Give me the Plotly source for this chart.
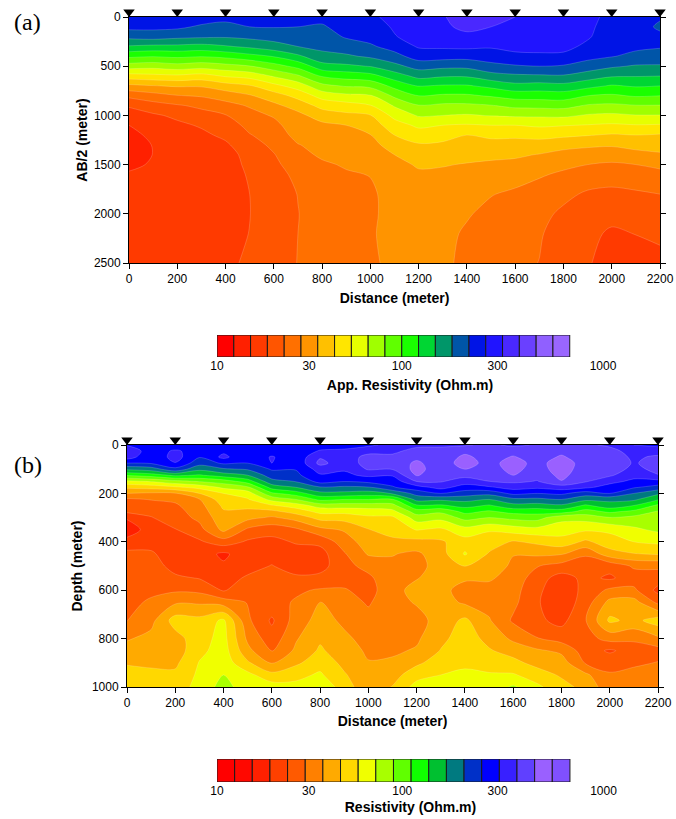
import numpy as np
import plotly.graph_objects as go

# --- shared
distance = [0, 100, 200, 300, 400, 500, 600, 700, 800, 900, 1000, 1100, 1200, 1300, 1400, 1500, 1600, 1700, 1800, 1900, 2000, 2100, 2200]
distance_ticks = [0, 200, 400, 600, 800, 1000, 1200, 1400, 1600, 1800, 2000, 2200]
electrodes = [0, 200, 400, 600, 800, 1000, 1200, 1400, 1600, 1800, 2000, 2200]

# --- panel (a): colour-scale position of apparent resistivity, one list per station
ab2 = [0, 100, 200, 300, 400, 500, 600, 700, 800, 900, 1000, 1100, 1200, 1300, 1400, 1500, 1600, 1800, 2000, 2200, 2500]
a_0 = [15.8, 15.3, 14.3, 12.9, 11.2, 9.5, 7.55, 5.75, 4.25, 3.1, 2.55, 2.0, 1.6, 1.4, 1.5, 1.8, 2.1, 2.35, 2.4, 2.45, 2.5]
a_100 = [15.7, 15.25, 14.45, 12.75, 11.05, 9.35, 7.7, 5.95, 4.6, 3.6, 2.85, 2.5, 2.3, 2.05, 2.02, 2.1, 2.25, 2.4, 2.4, 2.45, 2.5]
a_200 = [15.7, 15.2, 14.25, 12.75, 11.2, 9.6, 7.8, 6.1, 4.95, 3.9, 3.2, 2.8, 2.65, 2.5, 2.45, 2.45, 2.45, 2.45, 2.45, 2.45, 2.5]
a_300 = [15.5, 14.85, 14.15, 12.65, 11.05, 9.4, 7.6, 6.1, 5.1, 4.2, 3.65, 3.1, 2.8, 2.75, 2.6, 2.55, 2.5, 2.45, 2.45, 2.5, 2.6]
a_400 = [15.3, 14.7, 14.1, 12.9, 11.25, 9.65, 8.1, 6.55, 5.45, 4.65, 3.95, 3.55, 3.2, 2.85, 2.65, 2.6, 2.55, 2.5, 2.55, 2.65, 2.75]
a_500 = [15.25, 15, 14.25, 13.2, 11.65, 9.95, 8.35, 6.9, 5.9, 5.1, 4.65, 4.25, 3.95, 3.6, 3.3, 3.2, 3.1, 3.0, 2.98, 3.02, 3.2]
a_600 = [15.2, 15.05, 14.4, 13.6, 12.05, 10.6, 9.1, 7.7, 6.55, 5.75, 5.1, 4.7, 4.4, 4.2, 3.95, 3.8, 3.7, 3.6, 3.6, 3.6, 3.65]
a_700 = [15.1, 15, 14.5, 14, 12.8, 11.3, 9.85, 8.45, 7.3, 6.45, 5.7, 5.6, 5.35, 4.95, 4.7, 4.45, 4.2, 4.02, 3.98, 4.0, 4.02]
a_800 = [15.25, 14.9, 14.55, 14.25, 13.7, 12.6, 11.1, 9.7, 8.4, 7.3, 6.5, 5.75, 5.65, 5.35, 5.15, 4.85, 4.6, 4.4, 4.35, 4.35, 4.4]
a_900 = [15.6, 15.35, 15.1, 14.5, 13.85, 12.8, 11.4, 10.1, 8.75, 7.6, 6.75, 6, 5.8, 5.6, 5.35, 5.1, 4.9, 4.7, 4.65, 4.65, 4.7]
a_1000 = [15.85, 15.6, 15.35, 14.85, 14.15, 13.05, 11.65, 10.25, 8.9, 7.95, 6.95, 6.45, 5.97, 5.7, 5.45, 5.2, 5.03, 4.85, 4.85, 4.9, 4.8]
a_1100 = [16.25, 16.1, 15.95, 15.4, 14.65, 13.7, 12.5, 11.3, 10.2, 9.1, 8.3, 7.55, 7, 6.4, 6, 5.6, 5.45, 5.35, 5.3, 5.3, 5.3]
a_1200 = [16.7, 16.55, 16.35, 16.1, 15.45, 14.4, 13.3, 12.05, 11, 9.95, 9.1, 8.2, 7.5, 6.9, 6.5, 6.15, 5.8, 5.5, 5.4, 5.35, 5.3]
a_1300 = [16.95, 16.85, 16.5, 16.15, 15.4, 14.25, 13.1, 11.9, 10.85, 9.8, 9.0, 8, 7.3, 6.85, 6.45, 6.05, 5.85, 5.55, 5.4, 5.3, 5.25]
a_1400 = [17.3, 17.2, 16.8, 16.2, 15.35, 14.25, 13.1, 11.9, 10.85, 9.8, 8.9, 7.9, 7, 6.7, 6.25, 5.95, 5.75, 5.35, 5.1, 4.85, 4.7]
a_1500 = [17.3, 17, 16.6, 16.1, 15.5, 14.7, 13.6, 12.25, 11.1, 9.95, 9.05, 8, 7.15, 6.75, 6.2, 5.85, 5.6, 5.05, 4.7, 4.55, 4.45]
a_1600 = [17, 16.75, 16.5, 16.3, 15.75, 14.9, 13.8, 12.7, 11.4, 10.25, 9.15, 8, 7.15, 6.7, 6.15, 5.75, 5.45, 4.8, 4.5, 4.35, 4.25]
a_1700 = [16.8, 16.65, 16.45, 16.25, 15.85, 15, 13.85, 12.6, 11.45, 10.3, 9.15, 8.15, 7.3, 6.6, 5.95, 5.5, 5.1, 4.6, 4.3, 4.1, 3.98]
a_1800 = [16.6, 16.55, 16.4, 16.2, 15.85, 14.9, 13.9, 12.7, 11.5, 10.35, 9.2, 8.05, 7.2, 6.3, 5.7, 5.2, 4.85, 4.25, 3.8, 3.55, 3.35]
a_1900 = [16.15, 16.12, 16.08, 15.85, 15.3, 14.55, 13.5, 12.3, 11, 9.9, 8.9, 7.95, 7.05, 6.15, 5.6, 5, 4.6, 3.85, 3.45, 3.25, 3.1]
a_2000 = [15.85, 15.75, 15.6, 15.4, 15.05, 14.15, 13.1, 11.9, 10.85, 9.8, 8.8, 7.85, 6.9, 6.1, 5.5, 4.85, 4.45, 3.75, 3.3, 2.85, 2.55]
a_2100 = [15.5, 15.4, 15.3, 15.2, 14.75, 13.9, 13.05, 12.1, 11.1, 9.95, 8.95, 7.95, 7, 6.35, 5.65, 5, 4.6, 3.85, 3.45, 3.02, 2.7]
a_2200 = [15.1, 14.85, 15.2, 15.1, 14.55, 13.9, 13, 12, 11, 9.95, 8.95, 7.9, 6.9, 6.45, 5.85, 5.2, 4.75, 4, 3.6, 3.2, 2.7]

# --- panel (b): colour-scale position of resistivity, one list per station
depth = [0, 25, 50, 75, 100, 125, 150, 175, 200, 225, 250, 275, 300, 350, 400, 450, 500, 550, 600, 650, 725, 800, 850, 900, 950, 1000]
b_0 = [15.9, 17.0, 16.5, 15, 13.2, 11.1, 8.8, 7.2, 6, 4.8, 4.5, 4.2, 3.1, 2.5, 3.3, 4.3, 4.5, 4.6, 4.7, 4.8, 4.95, 5.9, 6.4, 6.9, 7.4, 7.6]
b_100 = [15.2, 15.3, 15.2, 15.1, 13.5, 11.5, 9.1, 7.4, 5.85, 5.05, 4.6, 4.25, 3.95, 3.4, 3.6, 4.15, 4.5, 4.6, 4.85, 5.1, 5.7, 6.3, 6.6, 6.85, 7.2, 7.4]
b_200 = [15.1, 16.2, 16.4, 15.95, 14.7, 12.2, 9.7, 7.8, 5.9, 5.2, 4.85, 4.65, 4.5, 3.95, 3.55, 3.4, 3.6, 4.2, 4.85, 5.85, 7.45, 6.6, 6.45, 6.8, 7.2, 7.4]
b_300 = [15.5, 15.4, 15.05, 14.4, 13.25, 11.9, 10.1, 8.3, 7.0, 5.95, 5.65, 5.45, 5.25, 4.65, 3.85, 3.5, 3.5, 3.95, 4.75, 5.85, 7.3, 7.6, 7.75, 8.05, 8.2, 8.4]
b_400 = [15.3, 15.8, 16.25, 15.15, 13.85, 12.5, 10.5, 9.2, 8.0, 7.6, 7.2, 6.9, 6.65, 6.25, 4.55, 2.8, 3.15, 3.55, 3.9, 5.5, 8.2, 8.35, 8.45, 8.6, 9.0, 9.35]
b_500 = [15.3, 15.3, 15.2, 15, 14.1, 13, 11.5, 9.8, 8.5, 7.9, 7.2, 6.85, 6.3, 4.8, 3.85, 3.6, 3.6, 4.15, 4.65, 4.95, 5.2, 5.8, 6.3, 7.15, 8.3, 8.5]
b_600 = [15.4, 15.5, 16.1, 16.0, 15.1, 14.5, 13.7, 12.4, 10.8, 9.3, 7.9, 6.75, 5.85, 4.4, 3.7, 3.6, 4.05, 4.3, 4.45, 4.65, 3.85, 4.4, 4.9, 5.95, 7.3, 8.5]
b_700 = [15.35, 15.3, 15.3, 15.2, 15.05, 14.75, 14.05, 13, 11.5, 10, 8.5, 7.4, 6.4, 4.8, 4.1, 3.55, 3.5, 4.2, 4.85, 5.1, 5.45, 5.9, 6.2, 6.8, 7.7, 8.3]
b_800 = [15.5, 16.1, 16.9, 17.3, 16.4, 15.9, 15.4, 13.9, 12.7, 11.25, 9.45, 8.3, 7.35, 5.7, 4.25, 3.6, 3.6, 4.3, 5.1, 6.05, 6.4, 6.85, 7.15, 7.6, 8.15, 9.05]
b_900 = [15.7, 16.15, 16.5, 16.4, 16.1, 15.8, 15.05, 13.8, 12.7, 11, 9.5, 8.3, 7.4, 6.1, 5.5, 4.9, 4.7, 4.55, 5.1, 5.4, 5.8, 6.2, 6.45, 6.75, 7.1, 7.35]
b_1000 = [15.8, 16.7, 17.3, 17.4, 17.1, 16.2, 15.3, 13.9, 12.5, 11, 9.5, 8.5, 7.8, 6.95, 6.5, 6.1, 5.3, 4.8, 4.6, 4.9, 5.3, 5.65, 5.85, 6.05, 6.3, 6.5]
b_1100 = [16.3, 16.8, 17.2, 17.35, 17.05, 16.1, 15.4, 14.9, 13.1, 10.9, 9.65, 8.7, 7.8, 7.5, 6.7, 6.05, 5.8, 5.7, 5.7, 5.6, 5.5, 5.6, 5.85, 6.15, 6.6, 7.05]
b_1200 = [16.8, 17.3, 17.75, 18.2, 18.35, 18.1, 17.05, 15.6, 14.35, 13.35, 11.85, 10.5, 9.5, 8.05, 6.7, 5.8, 5.6, 5.95, 6.3, 6.1, 5.6, 5.85, 6.1, 6.8, 7.6, 8.4]
b_1300 = [16.9, 17.2, 17.3, 17.4, 17.4, 17.3, 17.1, 16.35, 15, 13.2, 11.85, 10.2, 9.3, 7.8, 6.85, 6.6, 6.5, 6.4, 6.3, 6.4, 6.45, 6.75, 7.05, 7.5, 8, 8.35]
b_1400 = [16.9, 17.7, 18.25, 18.5, 18, 17.3, 16.5, 15.55, 14.5, 13.35, 12.35, 11.3, 10.35, 8.6, 7.6, 8.1, 7.05, 6.15, 5.6, 5.85, 7.2, 7.5, 7.65, 7.85, 8.15, 8.3]
b_1500 = [17.2, 17.3, 17.5, 17.6, 17.5, 17.3, 17, 15.85, 14.3, 13, 11.9, 10.85, 10, 8.1, 7.5, 6.9, 6.6, 6.1, 5.75, 5.6, 6.1, 6.7, 7.1, 7.6, 8.1, 8.4]
b_1600 = [16.8, 17.6, 18.1, 18.5, 18.35, 18, 17.2, 16.4, 15.25, 13.75, 12.7, 11.35, 10.3, 8.45, 6.9, 6.05, 5.8, 5.7, 5.4, 5.25, 4.85, 5.8, 6.6, 7.3, 8.1, 9.15]
b_1700 = [17.1, 17.25, 17.45, 17.6, 17.5, 17.3, 16.95, 16.2, 15, 13.75, 12.6, 11.4, 10.4, 8.65, 7.2, 6.2, 5.05, 4.4, 4.2, 4.1, 4.2, 5.05, 6.15, 6.65, 7.5, 8.2]
b_1800 = [17.4, 17.7, 18.15, 18.6, 18.55, 18.3, 17.95, 16.5, 15.2, 14, 12.85, 11.5, 9.3, 8.45, 7.6, 6.1, 4.6, 3.6, 3.35, 3.3, 3.7, 4.6, 5.8, 6.45, 6.85, 7.4]
b_1900 = [17.2, 17.3, 17.4, 17.5, 17.4, 17.3, 17.1, 16.2, 14.5, 13.25, 11.85, 10.6, 9.4, 8.15, 6.8, 5.15, 4.4, 4.25, 4.3, 4.5, 4.95, 4.6, 4.5, 4.9, 6.2, 6.65]
b_2000 = [16.8, 17.4, 17.6, 17.75, 17.55, 17.15, 16.3, 15.6, 15.0, 13.25, 12.6, 11.2, 9.95, 8.2, 7.55, 6.6, 4.3, 3.85, 5.2, 6.3, 7.2, 5.35, 3.85, 4.65, 5.1, 5.4]
b_2100 = [16, 16.5, 16.8, 16.9, 16.7, 16.3, 15.8, 15.1, 14, 13.2, 12, 10.75, 9.7, 8.8, 8, 6.95, 5.15, 4.5, 5.2, 6.4, 6.7, 5.2, 4.45, 4.8, 5.35, 5.9]
b_2200 = [15.8, 16.5, 17.2, 17.4, 17.3, 16.95, 15.7, 14.6, 13.2, 12.1, 10.8, 9.9, 9.7, 9.2, 8.2, 7.1, 5.2, 4.5, 3.7, 4.75, 7.5, 5.8, 4.6, 5.05, 5.5, 5.8]

colors_a = ["#ff0000", "#ff2000", "#ff3a00", "#ff5500", "#ff7000", "#ff9400", "#ffc000", "#ffe600", "#e6ff00", "#a0ff00", "#60ff00",
            "#1aff00", "#00d633", "#009669", "#0055a8", "#0014e6", "#2014ff", "#4a28ff", "#6a40ff", "#9060ff", "#9a66ff"]
colors_b = ["#ff0000", "#ff0800", "#ff2000", "#ff4000", "#ff5a00", "#ff8000", "#ffaa00", "#ffd800", "#f0ff00", "#a8ff00",
            "#60ff00", "#10ff00", "#00c030", "#007a80", "#0030c8", "#0000ff", "#3820ff", "#6040ff", "#9a60ff", "#8050ff"]

tick_text = ["10", "30", "100", "300", "1000"]
tick_pos_a = [0, 5.48, 11.0, 16.7, 22.98]
tick_pos_b = [0, 5.2, 10.5, 15.9, 21.9]

W, H = 676, 819


def dx(a, b):
    return [a / W, b / W]


def dy(top, bottom):
    return [1 - bottom / H, 1 - top / H]


def step_scale(colors):
    n = len(colors)
    out = []
    for j, c in enumerate(colors):
        lo = 0 if j == 0 else (j + 0.5) / n
        hi = 1 if j == n - 1 else (j + 1.5) / n
        out.append([lo, c])
        out.append([hi, c])
    return out


SANS = "Liberation Sans"
fig = go.Figure()


def panel(sfx, strip, x, y, cols, colors, smooth):
    z = np.array(cols).T
    fig.add_trace(go.Contour(
        x=x, y=y, z=z, xaxis="x" + sfx, yaxis="y" + sfx,
        autocontour=False,
        contours=dict(start=0, end=len(colors) - 1, size=1, coloring="fill"),
        colorscale=step_scale(colors), showscale=False, hoverinfo="skip",
        line=dict(color="rgba(255,255,255,0.35)", width=0.5, smoothing=smooth),
    ))
    fig.add_trace(go.Scatter(
        x=electrodes, y=[0] * len(electrodes), mode="markers", cliponaxis=False,
        xaxis="x" + strip, yaxis="y" + strip, showlegend=False, hoverinfo="skip",
        marker=dict(symbol="triangle-down", size=10, color="black"),
    ))


def scale_bar(idx, colors):
    sfx = str(idx)
    n = len(colors)
    fig.add_trace(go.Bar(
        y=[0] * n, x=[1] * n, base=list(range(n)), orientation="h", width=1,
        xaxis="x" + sfx, yaxis="y" + sfx, showlegend=False, hoverinfo="skip",
        marker=dict(color=colors, line=dict(color="#1a1a1a", width=1)),
    ))


panel("", "5", distance, ab2,
      [a_0, a_100, a_200, a_300, a_400, a_500, a_600, a_700, a_800, a_900, a_1000, a_1100, a_1200, a_1300, a_1400, a_1500,
       a_1600, a_1700, a_1800, a_1900, a_2000, a_2100, a_2200], colors_a, 0.9)
panel("2", "6", distance, depth,
      [b_0, b_100, b_200, b_300, b_400, b_500, b_600, b_700, b_800, b_900, b_1000, b_1100, b_1200, b_1300, b_1400, b_1500,
       b_1600, b_1700, b_1800, b_1900, b_2000, b_2100, b_2200], colors_b, 0.9)
scale_bar(3, colors_a)
scale_bar(4, colors_b)

tickfont = dict(family=SANS, size=12, color="black")
titlefont = dict(family=SANS, size=14, color="black", weight="bold")
axis_common = dict(showgrid=False, zeroline=False, showline=True, linecolor="black", linewidth=1, automargin=False,
                   ticks="outside", ticklen=5, tickwidth=1, tickcolor="black", mirror="ticks", tickfont=tickfont)
strip_axis = dict(visible=False, automargin=False)

layout = dict(
    width=W, height=H, margin=dict(l=0, r=0, t=0, b=0), paper_bgcolor="white", plot_bgcolor="white",
    barmode="overlay", showlegend=False,
    xaxis=dict(domain=dx(129, 660), range=[0, 2200], tickvals=distance_ticks, anchor="y",
               title=dict(text="Distance (meter)", font=titlefont, standoff=7), **axis_common),
    yaxis=dict(domain=dy(17, 263), range=[2500, 0], tickvals=[0, 500, 1000, 1500, 2000, 2500], anchor="x",
               title=dict(text="AB/2 (meter)", font=titlefont, standoff=2), **axis_common),
    xaxis2=dict(domain=dx(127, 658), range=[0, 2200], tickvals=distance_ticks, anchor="y2",
                title=dict(text="Distance (meter)", font=titlefont, standoff=6), **axis_common),
    yaxis2=dict(domain=dy(445, 687), range=[1000, 0], tickvals=[0, 200, 400, 600, 800, 1000], anchor="x2",
                title=dict(text="Depth (meter)", font=titlefont, standoff=5), **axis_common),
    xaxis3=dict(domain=dx(217, 603), range=[0, 22.98], tickvals=tick_pos_a, ticktext=tick_text, anchor="y3",
                showgrid=False, zeroline=False, showline=False, ticks="", tickfont=tickfont, automargin=False,
                title=dict(text="App. Resistivity (Ohm.m)", font=titlefont, standoff=8)),
    yaxis3=dict(domain=dy(335, 357), range=[-0.5, 0.5], visible=False, anchor="x3", automargin=False),
    xaxis4=dict(domain=dx(217, 604), range=[0, 21.93], tickvals=tick_pos_b, ticktext=tick_text, anchor="y4",
                showgrid=False, zeroline=False, showline=False, ticks="", tickfont=tickfont, automargin=False,
                title=dict(text="Resistivity (Ohm.m)", font=titlefont, standoff=5)),
    yaxis4=dict(domain=dy(759, 782), range=[-0.5, 0.5], visible=False, anchor="x4", automargin=False),
    xaxis5=dict(domain=dx(129, 660), range=[0, 2200], anchor="y5", **strip_axis),
    yaxis5=dict(domain=dy(7, 17), range=[-1, 1], anchor="x5", **strip_axis),
    xaxis6=dict(domain=dx(127, 658), range=[0, 2200], anchor="y6", **strip_axis),
    yaxis6=dict(domain=dy(435, 445), range=[-1, 1], anchor="x6", **strip_axis),
    annotations=[
        dict(text="(a)", x=12 / W, y=1 - 22 / H, xref="paper", yref="paper", xanchor="left", yanchor="middle",
             showarrow=False, font=dict(family="Liberation Serif", size=24, color="black")),
        dict(text="(b)", x=12 / W, y=1 - 465 / H, xref="paper", yref="paper", xanchor="left", yanchor="middle",
             showarrow=False, font=dict(family="Liberation Serif", size=24, color="black")),
    ],
)
fig.update_layout(**layout)
fig.write_html("out.html", config={"displayModeBar": False},
               post_script="document.body.style.margin='0';document.documentElement.style.overflow='hidden';")
